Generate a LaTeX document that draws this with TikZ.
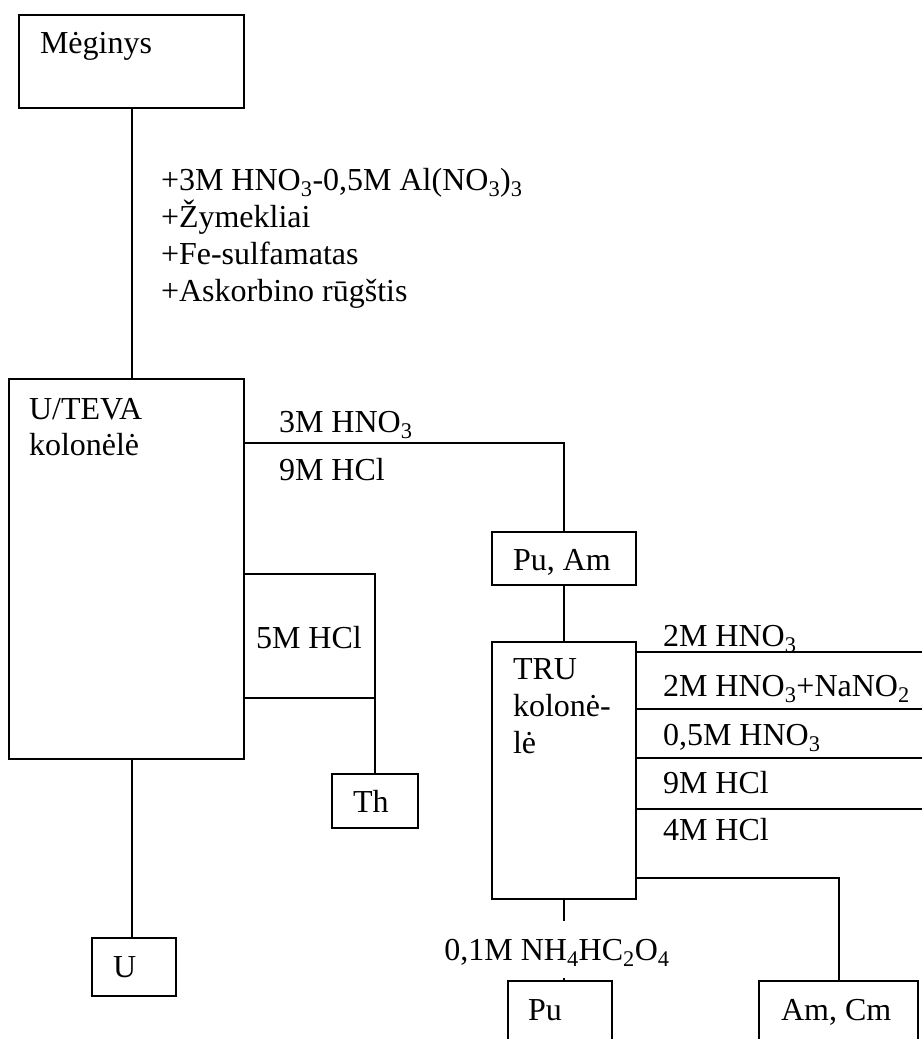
\documentclass[tikz,border=0pt]{standalone}
\usepackage{fontspec}
\setmainfont{Liberation Serif}
\usetikzlibrary{calc}
\newcommand{\sbs}[1]{\textsubscript{#1}}
\begin{document}
\begin{tikzpicture}[x=1pt,y=-1pt,line width=2pt,
  box/.style={draw,rectangle,inner sep=0pt,anchor=north west},
  lbl/.style={anchor=base west,inner sep=0pt,font=\fontsize{32}{36.8}\selectfont}]
\useasboundingbox (0,0) rectangle (922,1039);
\clip (0,0) rectangle (922,1039);
\coordinate (rim) at (922,0);

% boxes
\node[box,minimum width=225pt,minimum height=93pt] (meginys) at (18,14) {};
\node[box,minimum width=235pt,minimum height=380pt] (uteva) at (8,378) {};
\node[box,minimum width=144pt,minimum height=53pt] (puam) at (491,531) {};
\node[box,minimum width=144pt,minimum height=257pt] (tru) at (491,641) {};
\node[box,minimum width=86pt,minimum height=54pt] (th) at (331,773) {};
\node[box,minimum width=84pt,minimum height=58pt] (u) at (91,937) {};
\node[box,minimum width=104pt,minimum height=100pt] (pu) at (507,980) {};
\node[box,minimum width=159pt,minimum height=100pt] (amcm) at (758,980) {};

% box texts
\node[lbl] (tmeg) at (39,53) {Mėginys};
\node[lbl] (tute1) at (28,419) {U/TEVA};
\node[lbl] (tute2) at (28,455) {kolonėlė};
\node[lbl] (tpuam) at (512,570) {Pu, Am};
\node[lbl] (ttru1) at (512,679) {TRU};
\node[lbl] (ttru2) at (512,716) {kolonė-};
\node[lbl] (ttru3) at (512,753) {lė};
\node[lbl] (tth) at (352,812) {Th};
\node[lbl] (tu) at (112,977) {U};
\node[lbl] (tpu) at (527,1020) {Pu};
\node[lbl] (tamcm) at (780,1020) {Am, Cm};

% reagents added to the sample
\node[lbl] (add1) at (160,190) {+3M HNO\sbs{3}-0,5M Al(NO\sbs{3})\sbs{3}};
\node[lbl] (add2) at (160,227) {+Žymekliai};
\node[lbl] (add3) at (160,264) {+Fe-sulfamatas};
\node[lbl] (add4) at (160,301) {+Askorbino rūgštis};

% U/TEVA eluents
\node[lbl] (e1) at (278,432) {3M HNO\sbs{3}};
\node[lbl] (e2) at (278,480) {9M HCl};
\node[lbl] (e3) at (255,648) {5M HCl};

% TRU eluents
\node[lbl] (r1) at (662,646) {2M HNO\sbs{3}};
\node[lbl] (r2) at (662,696) {2M HNO\sbs{3}+NaNO\sbs{2}};
\node[lbl] (r3) at (662,745) {0,5M HNO\sbs{3}};
\node[lbl] (r4) at (662,793) {9M HCl};
\node[lbl] (r5) at (662,840) {4M HCl};
\node[lbl,anchor=base,text height=29pt,text depth=8pt,inner ysep=9pt] (elute) at (557,960) {0,1M NH\sbs{4}HC\sbs{2}O\sbs{4}};

% connectors
\draw (meginys.south) -- (meginys.south |- uteva.north);
\draw (uteva.east |- 0,443) -| (puam.north);
\draw (puam.south) -- (tru.north);
\draw (uteva.east |- 0,574) -| (th.north);
\draw (uteva.east |- 0,698) -- (th.north |- 0,698);
\draw (meginys.south |- uteva.south) -- (meginys.south |- u.north);
\foreach \yy in {652,709,758,809}
  \draw (tru.east |- 0,\yy) -- (rim |- 0,\yy);
\draw (tru.east |- 0,878) -| (amcm.north);
\draw (tru.south) -- (tru.south |- elute.north);
\draw (tru.south |- elute.south) -- (tru.south |- pu.north);
\end{tikzpicture}
\end{document}
